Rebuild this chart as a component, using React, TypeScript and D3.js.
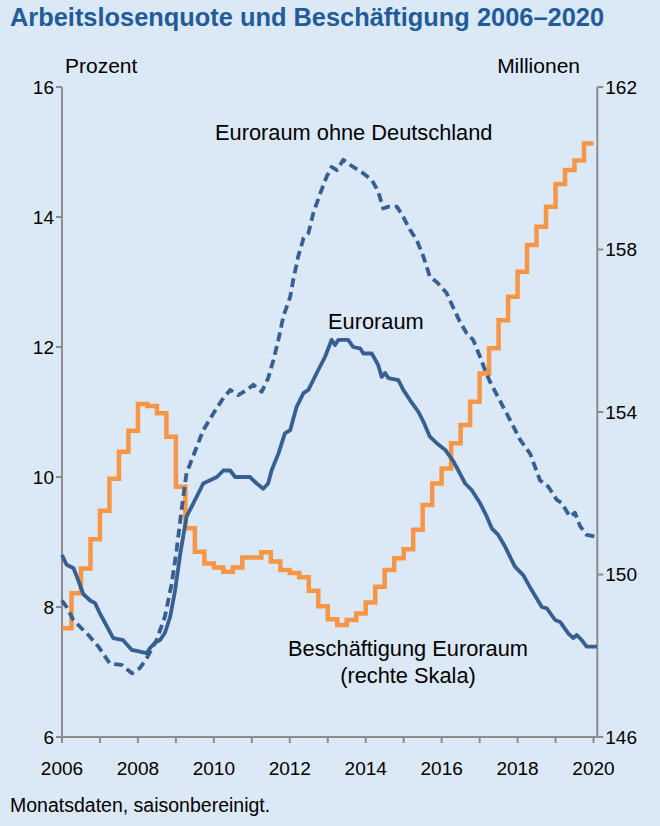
import React from "react";
import * as d3 from "d3";

// ---- data ----
const tickYears = d3.range(2006, 2021);
const labelYears = [2006, 2008, 2010, 2012, 2014, 2016, 2018, 2020];
const leftTicks = [6, 8, 10, 12, 14, 16];
const rightTicks = [146, 150, 154, 158, 162];

// Euroraum unemployment rate (%)
const euroT = [2006.0, 2006.12, 2006.3, 2006.39, 2006.56, 2006.74, 2006.87, 2007.0, 2007.35, 2007.61, 2007.84, 2008.23, 2008.32, 2008.45, 2008.58, 2008.71, 2008.85, 2008.98, 2009.11, 2009.28, 2009.55, 2009.72, 2009.9, 2010.08, 2010.25, 2010.43, 2010.56, 2010.95, 2011.13, 2011.3, 2011.43, 2011.52, 2011.7, 2011.87, 2012.01, 2012.18, 2012.36, 2012.49, 2012.71, 2012.93, 2013.1, 2013.19, 2013.28, 2013.54, 2013.67, 2013.85, 2013.94, 2014.16, 2014.33, 2014.42, 2014.51, 2014.6, 2014.86, 2014.99, 2015.17, 2015.39, 2015.52, 2015.69, 2015.87, 2016.09, 2016.31, 2016.44, 2016.62, 2016.79, 2017.01, 2017.19, 2017.32, 2017.49, 2017.67, 2017.93, 2018.15, 2018.37, 2018.64, 2018.77, 2018.99, 2019.12, 2019.34, 2019.47, 2019.56, 2019.69, 2019.82, 2020.09];
const euroV = [8.8, 8.65, 8.6, 8.47, 8.2, 8.1, 8.06, 7.9, 7.52, 7.49, 7.34, 7.29, 7.37, 7.45, 7.49, 7.6, 7.85, 8.26, 8.8, 9.39, 9.7, 9.9, 9.95, 10.0, 10.1, 10.1, 10.0, 10.0, 9.9, 9.82, 9.9, 10.1, 10.36, 10.67, 10.72, 11.08, 11.29, 11.34, 11.6, 11.85, 12.11, 12.03, 12.11, 12.11, 12.0, 11.98, 11.9, 11.9, 11.72, 11.54, 11.6, 11.52, 11.49, 11.34, 11.18, 11.0, 10.85, 10.62, 10.52, 10.42, 10.24, 10.1, 9.9, 9.8, 9.6, 9.39, 9.21, 9.11, 8.93, 8.62, 8.49, 8.26, 8.0, 7.98, 7.8, 7.77, 7.59, 7.52, 7.57, 7.49, 7.39, 7.39];

// Euroraum ohne Deutschland (%)
const exDeT = [2006.0, 2006.12, 2006.3, 2006.47, 2006.74, 2006.96, 2007.26, 2007.57, 2007.84, 2008.05, 2008.23, 2008.49, 2008.71, 2008.89, 2009.02, 2009.15, 2009.28, 2009.72, 2009.99, 2010.21, 2010.43, 2010.64, 2010.87, 2011.04, 2011.26, 2011.43, 2011.57, 2011.7, 2011.83, 2012.01, 2012.09, 2012.22, 2012.36, 2012.49, 2012.62, 2012.8, 2012.97, 2013.1, 2013.24, 2013.41, 2013.67, 2013.94, 2014.16, 2014.33, 2014.46, 2014.6, 2014.82, 2014.99, 2015.17, 2015.34, 2015.52, 2015.69, 2015.87, 2016.13, 2016.31, 2016.48, 2016.66, 2016.83, 2017.01, 2017.14, 2017.27, 2017.53, 2017.8, 2018.07, 2018.33, 2018.59, 2018.81, 2019.03, 2019.16, 2019.38, 2019.51, 2019.65, 2019.82, 2020.09];
const exDeV = [8.1, 8.0, 7.8, 7.7, 7.54, 7.39, 7.13, 7.11, 6.98, 7.06, 7.21, 7.49, 7.85, 8.36, 8.88, 9.5, 10.06, 10.72, 10.98, 11.18, 11.34, 11.26, 11.34, 11.42, 11.31, 11.52, 11.8, 12.11, 12.47, 12.77, 13.03, 13.39, 13.67, 13.75, 14.06, 14.36, 14.62, 14.77, 14.72, 14.88, 14.77, 14.67, 14.57, 14.39, 14.13, 14.16, 14.16, 14.0, 13.8, 13.65, 13.39, 13.08, 13.0, 12.83, 12.6, 12.39, 12.21, 12.11, 11.85, 11.65, 11.47, 11.18, 10.88, 10.57, 10.36, 9.95, 9.85, 9.65, 9.6, 9.39, 9.45, 9.24, 9.11, 9.08];

// Beschäftigung Euroraum (Mio), quarterly from 2006 Q1
const employment = [148.68, 149.54, 150.15, 150.87, 151.57, 152.36, 153.02, 153.54, 154.2, 154.15, 153.97, 153.39, 152.16, 151.14, 150.56, 150.27, 150.17, 150.07, 150.17, 150.42, 150.42, 150.55, 150.32, 150.11, 150.04, 149.93, 149.6, 149.22, 148.9, 148.76, 148.88, 149.04, 149.31, 149.7, 150.11, 150.4, 150.62, 151.1, 151.71, 152.24, 152.61, 153.23, 153.68, 154.25, 154.95, 155.57, 156.26, 156.84, 157.45, 158.11, 158.56, 159.05, 159.61, 159.96, 160.19, 160.61];

const W = 660;
const H = 826;
const BLUE = "#375f91";
const ORANGE = "#f79646";
const AXIS = "#8c8c8c";
const FONT = "'Liberation Sans', Arial, sans-serif";

export default function App() {
  const x = d3.scaleLinear().domain([2006, 2020.1]).range([62, 597.3]);
  const yL = d3.scaleLinear().domain([6, 16]).range([737, 87]);
  const yR = d3.scaleLinear().domain([146, 162]).range([737, 87]);

  const empPts: [number, number][] = employment.map((v, i) => [2006 + i / 4, v]);
  empPts.push([2020, employment[employment.length - 1]]);

  const empLine = d3
    .line<[number, number]>()
    .x((d) => x(d[0]))
    .y((d) => yR(d[1]))
    .curve(d3.curveStepAfter);

  const pctLine = d3
    .line<[number, number]>()
    .x((d) => x(d[0]))
    .y((d) => yL(d[1]));

  const euroPts = euroT.map((t, i) => [t, euroV[i]] as [number, number]);
  const exDePts = exDeT.map((t, i) => [t, exDeV[i]] as [number, number]);

  const x0 = x(2006);
  const x1 = x.range()[1];
  const yBottom = yL(6);
  const yTop = yL(16);

  return (
    <div style={{ position: "absolute", left: 0, top: 0 }}>
      <svg width={W} height={H} style={{ display: "block", fontFamily: FONT }}>
        <rect x={0} y={0} width={W} height={H} fill="#dbe8f6" />
        <text x={10} y={26} fontSize={25.4} fontWeight="bold" fill="#1f5c98">
          Arbeitslosenquote und Beschäftigung 2006–2020
        </text>
        <text x={65} y={73} fontSize={21} fill="#000">Prozent</text>
        <text x={580} y={73} fontSize={21} fill="#000" textAnchor="end">Millionen</text>

        {/* axes */}
        <g stroke={AXIS} strokeWidth={2} fill="none">
          <line x1={x0} y1={yTop} x2={x0} y2={yBottom} />
          <line x1={x1} y1={yTop} x2={x1} y2={yBottom} />
          <line x1={x0} y1={yBottom} x2={x1} y2={yBottom} />
          {leftTicks.map((t) => (
            <line key={"l" + t} x1={x0 - 6} x2={x0} y1={yL(t)} y2={yL(t)} />
          ))}
          {rightTicks.map((t) => (
            <line key={"r" + t} x1={x1} x2={x1 + 6} y1={yR(t)} y2={yR(t)} />
          ))}
          {tickYears.map((t) => (
            <line key={"x" + t} x1={x(t)} x2={x(t)} y1={yBottom} y2={yBottom + 6} />
          ))}
        </g>
        <g fontSize={19} fill="#000">
          {leftTicks.map((t) => (
            <text key={"lt" + t} x={x0 - 8} y={yL(t)} dy="0.35em" textAnchor="end">
              {t}
            </text>
          ))}
          {rightTicks.map((t) => (
            <text key={"rt" + t} x={x1 + 8} y={yR(t)} dy="0.35em">
              {t}
            </text>
          ))}
          {labelYears.map((t) => (
            <text key={"xt" + t} x={x(t)} y={yBottom + 38} textAnchor="middle">
              {t}
            </text>
          ))}
        </g>

        {/* series */}
        <path d={empLine(empPts) || ""} fill="none" stroke={ORANGE} strokeWidth={4.5} strokeLinejoin="miter" />
        <path d={pctLine(exDePts) || ""} fill="none" stroke={BLUE} strokeWidth={3.8} strokeDasharray="9,5" strokeLinejoin="round" />
        <path d={pctLine(euroPts) || ""} fill="none" stroke={BLUE} strokeWidth={3.8} strokeLinejoin="round" />

        {/* annotations */}
        <g fontSize={21.8} fill="#000">
          <text x={215} y={140}>Euroraum ohne Deutschland</text>
          <text x={328} y={329}>Euroraum</text>
          <text x={408} y={656} textAnchor="middle">Beschäftigung Euroraum</text>
          <text x={408} y={683} textAnchor="middle">(rechte Skala)</text>
        </g>
        <text x={10} y={812} fontSize={19.5} fill="#000">Monatsdaten, saisonbereinigt.</text>
      </svg>
    </div>
  );
}
